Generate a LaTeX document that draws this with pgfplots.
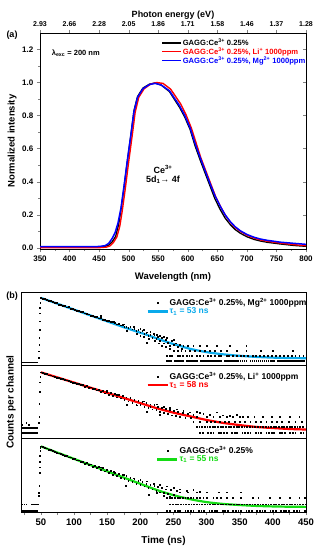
\documentclass[border=0pt]{standalone}
\usepackage{fontspec}
\setmainfont{Liberation Sans}
\usepackage{pgfplots}
\pgfplotsset{compat=1.18}
\definecolor{mgc}{RGB}{10,170,235}
\definecolor{lic}{RGB}{255,0,0}
\definecolor{unc}{RGB}{20,220,20}
\definecolor{bluec}{RGB}{0,0,255}
\pgfplotsset{
  /pgf/number format/assume math mode=true,
  every axis/.append style={font=\bfseries, line width=0.6pt},
  bpanel/.style={scale only axis, width=285pt, height=73.33pt,
    xmin=20, xmax=450, ymin=0, ymax=1, ytick=\empty,
    legend style={draw=none, fill=none, font=\fontsize{8.5}{9}\selectfont\bfseries,
      legend cell align=left, row sep=-1.5pt, inner sep=0pt, nodes={inner sep=1pt}},
  },
  dotmarks/.style={only marks, mark=square*, mark size=0.4pt, black},
  fitline/.style={line width=2.2pt, smooth},
}
\begin{document}
\begin{tikzpicture}[x=1pt,y=1pt]
\useasboundingbox (0,0) rectangle (318,550);
\node[font=\fontsize{9}{10}\selectfont\bfseries] at (12,515) {(a)};
\node[font=\fontsize{9}{10}\selectfont\bfseries] at (12,254) {(b)};

% ---------- panel (a) ----------
\begin{axis}[at={(40pt,300.7pt)}, anchor=south west, scale only axis,
  width=266pt, height=216.3pt, xmin=350, xmax=800, ymin=-0.01, ymax=1.3,
  xtick={350,400,...,800}, minor x tick num=1,
  ytick={0,0.2,...,1.2}, minor y tick num=1,
  tick pos=left, tick align=outside, major tick length=3pt, minor tick length=1.8pt,
  yticklabel style={/pgf/number format/fixed, /pgf/number format/fixed zerofill, /pgf/number format/precision=1},
  ticklabel style={font=\fontsize{8}{9}\selectfont\bfseries},
  xlabel={Wavelength (nm)}, ylabel={Normalized intensity},
  label style={font=\fontsize{9.5}{10}\selectfont\bfseries},
  xlabel style={at={(axis description cs:0.5,-0.128)}, anchor=center},
  ylabel style={at={(axis description cs:-0.105,0.5)}, anchor=center},
  legend style={at={(0.455,0.979)}, anchor=north west, draw=none, fill=none,
    font=\fontsize{7.6}{8}\selectfont\bfseries, legend cell align=left,
    row sep=-1.2pt, inner sep=0pt, nodes={inner sep=1pt}},
  legend image code/.code={\draw[#1] (0pt,0pt) -- (19pt,0pt);},
]
\addplot[black, line width=1.3pt] coordinates {
(350,0.003)(400,0.003)(450,0.004)(460,0.008)(466,0.015)(472,0.035)(478,0.068)(483,0.14)(487,0.23)(492,0.36)(498,0.53)(504,0.69)(509,0.83)(515,0.915)(524,0.966)(535,0.99)(544,0.997)(555,0.985)(569,0.945)(586,0.85)(595,0.79)(604,0.715)(612,0.62)(621,0.53)(630,0.445)(638,0.37)(646,0.295)(655,0.23)(663,0.18)(672,0.139)(680,0.11)(689,0.087)(700,0.066)(712,0.05)(723,0.04)(735,0.032)(757,0.022)(780,0.013)(800,0.008)};
\addlegendentry{GAGG:Ce\textsuperscript{3+} 0.25\%}
\addplot[lic, line width=1.4pt] coordinates {
(350,0.0)(450,0.0)(462,0.003)(468,0.01)(474,0.03)(480,0.065)(485,0.13)(489,0.22)(494,0.35)(500,0.52)(506,0.68)(511,0.82)(517,0.91)(526,0.962)(537,0.99)(547,1.0)(558,0.995)(571,0.96)(588,0.87)(597,0.805)(606,0.725)(614,0.635)(622,0.545)(631,0.46)(639,0.385)(647,0.31)(656,0.245)(664,0.193)(673,0.15)(681,0.12)(690,0.096)(701,0.074)(713,0.057)(724,0.046)(736,0.038)(758,0.027)(780,0.018)(800,0.012)};
\addlegendentry{\textcolor{lic}{GAGG:Ce\textsuperscript{3+} 0.25\%, Li\textsuperscript{+} 1000ppm}}
\addplot[bluec, line width=1.5pt] coordinates {
(350,0.006)(400,0.006)(450,0.007)(460,0.012)(466,0.025)(472,0.055)(477,0.09)(482,0.15)(487,0.24)(492,0.37)(498,0.535)(504,0.69)(509,0.825)(515,0.91)(524,0.962)(535,0.988)(545,0.995)(555,0.985)(569,0.95)(586,0.86)(595,0.8)(604,0.725)(612,0.635)(621,0.545)(630,0.46)(638,0.385)(646,0.315)(655,0.25)(663,0.2)(672,0.157)(680,0.127)(689,0.102)(700,0.08)(712,0.063)(723,0.052)(735,0.044)(757,0.033)(780,0.026)(800,0.02)};
\addlegendentry{\textcolor{bluec}{GAGG:Ce\textsuperscript{3+} 0.25\%, Mg\textsuperscript{2+} 1000ppm}}
\node[anchor=west, font=\fontsize{7.5}{8}\selectfont\bfseries] at (axis cs:364,1.18) {λ\textsubscript{exc} = 200 nm};
\node[font=\fontsize{9}{10}\selectfont\bfseries] at (axis cs:558,0.476) {Ce\textsuperscript{3+}};
\node[font=\fontsize{9}{10}\selectfont\bfseries] at (axis cs:558,0.411) {5d\textsubscript{1}→ 4f};
\end{axis}
% top energy axis
\begin{axis}[at={(40pt,300.7pt)}, anchor=south west, scale only axis,
  width=266pt, height=216.3pt, xmin=350, xmax=800, ymin=-0.01, ymax=1.3,
  axis x line*=top, axis y line=none, tick align=outside, major tick length=3pt,
  xtick={350,400,...,800},
  xticklabels={2.93,2.66,2.28,2.05,1.86,1.71,1.58,1.46,1.37,1.28},
  ticklabel style={font=\fontsize{7}{8}\selectfont\bfseries},
  xlabel={Photon energy (eV)},
  xlabel style={font=\fontsize{9}{10}\selectfont\bfseries, at={(axis description cs:0.5,1.083)}, anchor=center},
]
\end{axis}
% right ticks
\begin{axis}[at={(40pt,300.7pt)}, anchor=south west, scale only axis,
  width=266pt, height=216.3pt, xmin=350, xmax=800, ymin=-0.01, ymax=1.3,
  axis x line=none, axis y line*=right, tick align=inside, major tick length=3pt,
  ytick={0.2,0.4,...,1.2}, yticklabels={}]
\end{axis}

% ---------- panel (b1) Mg ----------
\begin{axis}[bpanel, at={(21pt,184.67pt)}, anchor=south west, xtick=\empty,
  legend style={at={(0.439,0.925)}, anchor=north west},
  legend image code/.code={\draw[mark repeat=2,mark phase=2,#1] plot coordinates {(0pt,0pt) (10pt,0pt) (20pt,0pt)};}]
\addplot[dotmarks] coordinates {
(22,0.04)(24,0.04)(26,0.04)(28,0.04)(30,0.04)(32,0.04)(34,0.04)(36,0.04)(38,0.04)(40,0.04)(42,0.04)(44,0.04)
(47,0.10)(47,0.19)(47.5,0.28)(47.5,0.37)(48,0.48)(48,0.60)(48.5,0.71)(48.5,0.78)(49,0.85)(50,0.92)
(53,0.91)(56,0.905)(59,0.895)(62,0.885)(65,0.875)(68,0.87)(71,0.855)(74,0.85)(77,0.83)(80,0.83)(83,0.81)(86,0.81)(89,0.79)(92,0.795)(95,0.775)(98,0.77)(101,0.76)(104,0.745)(107,0.745)(110,0.73)(113,0.725)(116,0.71)(119,0.705)(122,0.695)(125,0.68)(128,0.68)(131,0.665)(134,0.66)(137,0.64)(140,0.645)(143,0.625)(146,0.625)(149,0.61)(152,0.61)(155,0.59)(158,0.59)(161,0.585)(164,0.56)(167,0.57)(170,0.545)(173,0.55)(176,0.525)(179,0.53)(182,0.51)(185,0.52)(188,0.49)(191,0.50)(194,0.47)(197,0.48)(200,0.45)(203,0.47)(206,0.43)(209,0.44)(212,0.40)(215,0.42)(218,0.38)(221,0.41)(224,0.36)(227,0.39)(230,0.33)(233,0.37)(236,0.30)(239,0.35)(242,0.31)(245,0.27)(248,0.33)(251,0.28)(254,0.30)(257,0.25)(260,0.28)(263,0.22)
(140,0.67)(160,0.60)(175,0.56)(190,0.52)(200,0.50)(205,0.48)(210,0.45)(215,0.46)(220,0.43)(225,0.42)(230,0.40)(235,0.39)(240,0.37)(250,0.35)(180,0.47)(195,0.43)(205,0.39)(213,0.36)(222,0.33)(228,0.30)(233,0.27)(238,0.25)(245,0.23)(210,0.31)(200,0.40)
(265,0.27)(272,0.27)(280,0.27)(290,0.27)(300,0.27)(315,0.27)(335,0.27)(360,0.27)
(250,0.20)(256,0.20)(262,0.20)(268,0.20)(275,0.20)(282,0.20)(290,0.20)(297,0.20)(305,0.20)(312,0.20)(322,0.20)(330,0.20)(345,0.20)(360,0.20)(382,0.20)(400,0.20)(430,0.20)
(240,0.13)(244,0.13)(248,0.13)(256,0.13)(260,0.13)(264,0.13)(270,0.13)(274,0.13)(278,0.13)(285,0.13)(290,0.13)(295,0.13)(302,0.13)(306,0.13)(312,0.13)(318,0.13)(322,0.13)(330,0.13)(334,0.13)(340,0.13)(346,0.13)(352,0.13)(356,0.13)(362,0.13)(370,0.13)(374,0.13)(380,0.13)(386,0.13)(392,0.13)(398,0.13)(404,0.13)(410,0.13)(416,0.13)(422,0.13)(428,0.13)(434,0.13)(440,0.13)(446,0.13)
(240,0.06)(243,0.06)(246,0.06)(252,0.06)(255,0.06)(258,0.06)(261,0.06)(264,0.06)(270,0.06)(273,0.06)(276,0.06)(279,0.06)(282,0.06)(285,0.06)(291,0.06)(294,0.06)(297,0.06)(300,0.06)(303,0.06)(306,0.06)(309,0.06)(312,0.06)(315,0.06)(318,0.06)(321,0.06)(327,0.06)(330,0.06)(333,0.06)(336,0.06)(339,0.06)(342,0.06)(345,0.06)(348,0.06)(351,0.06)(354,0.06)(357,0.06)(360,0.06)(366,0.06)(369,0.06)(372,0.06)(375,0.06)(378,0.06)(381,0.06)(384,0.06)(387,0.06)(390,0.06)(393,0.06)(396,0.06)(399,0.06)(402,0.06)(408,0.06)(411,0.06)(414,0.06)(417,0.06)(420,0.06)(423,0.06)(426,0.06)(429,0.06)(432,0.06)(435,0.06)(438,0.06)(441,0.06)(444,0.06)(447,0.06)
};
\addlegendentry{GAGG:Ce\textsuperscript{3+} 0.25\%, Mg\textsuperscript{2+} 1000ppm}
\addplot[mgc, fitline] coordinates {
(50,0.92)(75,0.84)(100,0.76)(125,0.68)(150,0.60)(175,0.52)(200,0.445)(215,0.40)(230,0.35)(240,0.32)(250,0.29)(260,0.265)(275,0.225)(300,0.18)(325,0.15)(350,0.13)(375,0.115)(400,0.105)(425,0.10)(450,0.097)};
\addlegendentry{\textcolor{mgc}{τ\textsubscript{1} = 53 ns}}
\end{axis}

% ---------- panel (b2) Li ----------
\begin{axis}[bpanel, at={(21pt,111.33pt)}, anchor=south west, xtick=\empty,
  ylabel={Counts per channel},
  ylabel style={font=\fontsize{10}{11}\selectfont\bfseries, at={(axis description cs:-0.035,0.5)}, anchor=center},
  legend style={at={(0.439,0.923)}, anchor=north west},
  legend image code/.code={\draw[mark repeat=2,mark phase=2,#1] plot coordinates {(0pt,0pt) (10pt,0pt) (20pt,0pt)};}]
\addplot[dotmarks] coordinates {
(22,0.15)(24,0.15)(26,0.15)(28,0.15)(30,0.15)(32,0.15)(34,0.15)(36,0.15)(38,0.15)(40,0.15)(42,0.15)(44,0.15)
(22,0.085)(24,0.085)(26,0.085)(28,0.085)(30,0.085)(32,0.085)(34,0.085)(36,0.085)(38,0.085)(40,0.085)(42,0.085)(44,0.085)
(22,0.19)(28,0.22)(32,0.19)
(47,0.22)(47.5,0.30)(47.5,0.48)(48,0.64)(48.5,0.77)(49,0.84)(50,0.905)
(53,0.90)(56,0.885)(59,0.88)(62,0.865)(65,0.865)(68,0.85)(71,0.845)(74,0.835)(77,0.83)(80,0.815)(83,0.815)(86,0.80)(89,0.795)(92,0.785)(95,0.78)(98,0.765)(101,0.765)(104,0.745)(107,0.75)(110,0.73)(113,0.735)(116,0.71)(119,0.72)(122,0.695)(125,0.70)(128,0.675)(131,0.685)(134,0.66)(137,0.67)(140,0.64)(143,0.655)(146,0.62)(149,0.64)(152,0.60)(155,0.625)(158,0.585)(161,0.61)(164,0.565)(167,0.595)(170,0.55)(173,0.58)(176,0.53)(179,0.565)(182,0.51)(185,0.55)(188,0.49)(191,0.535)(194,0.47)(197,0.52)(200,0.46)(203,0.50)(206,0.44)(209,0.49)(212,0.42)(215,0.47)(218,0.40)(221,0.46)(224,0.39)(227,0.44)(230,0.37)(233,0.42)(236,0.35)(239,0.41)(242,0.34)(245,0.39)(248,0.32)(251,0.38)(254,0.31)(257,0.37)(260,0.30)(264,0.35)(268,0.29)(272,0.34)(276,0.28)(280,0.33)(285,0.30)(290,0.35)
(150,0.655)(165,0.60)(185,0.56)(195,0.455)(205,0.51)(215,0.43)(225,0.47)(235,0.44)(245,0.42)(255,0.40)(265,0.38)(275,0.36)(285,0.37)(295,0.34)(305,0.33)(315,0.36)(325,0.32)(335,0.31)(345,0.33)(355,0.30)(210,0.37)(230,0.33)(180,0.46)
(300,0.30)(310,0.30)(320,0.30)(330,0.30)(340,0.30)(350,0.30)(362,0.30)(372,0.30)(385,0.30)(398,0.30)(410,0.30)(425,0.30)(440,0.30)
(280,0.23)(290,0.23)(300,0.23)(306,0.23)(312,0.23)(320,0.23)(328,0.23)(334,0.23)(342,0.23)(350,0.23)(358,0.23)(366,0.23)(374,0.23)(382,0.23)(390,0.23)(398,0.23)(406,0.23)(414,0.23)(424,0.23)(434,0.23)(444,0.23)
(285,0.16)(289,0.16)(293,0.16)(297,0.16)(301,0.16)(305,0.16)(309,0.16)(313,0.16)(317,0.16)(321,0.16)(325,0.16)(329,0.16)(333,0.16)(337,0.16)(341,0.16)(345,0.16)(349,0.16)(353,0.16)(357,0.16)(361,0.16)(365,0.16)(369,0.16)(373,0.16)(377,0.16)(381,0.16)(385,0.16)(389,0.16)(393,0.16)(397,0.16)(401,0.16)(405,0.16)(409,0.16)(413,0.16)(417,0.16)(421,0.16)(425,0.16)(429,0.16)(433,0.16)(437,0.16)(441,0.16)(445,0.16)
(290,0.085)(294,0.085)(302,0.085)(306,0.085)(310,0.085)(318,0.085)(322,0.085)(326,0.085)(330,0.085)(338,0.085)(342,0.085)(346,0.085)(354,0.085)(358,0.085)(362,0.085)(366,0.085)(374,0.085)(378,0.085)(382,0.085)(390,0.085)(394,0.085)(398,0.085)(402,0.085)(410,0.085)(414,0.085)(418,0.085)(426,0.085)(430,0.085)(434,0.085)(442,0.085)(446,0.085)
};
\addlegendentry{GAGG:Ce\textsuperscript{3+} 0.25\%, Li\textsuperscript{+} 1000ppm}
\addplot[lic, fitline] coordinates {
(50,0.905)(75,0.835)(100,0.765)(125,0.695)(150,0.625)(175,0.555)(200,0.485)(225,0.415)(250,0.355)(275,0.305)(300,0.255)(325,0.215)(350,0.185)(375,0.16)(400,0.145)(425,0.132)(450,0.125)};
\addlegendentry{\textcolor{lic}{τ\textsubscript{1} = 58 ns}}
\end{axis}

% ---------- panel (b3) undoped ----------
\begin{axis}[bpanel, at={(21pt,38pt)}, anchor=south west,
  xtick={50,100,...,450}, minor xtick={25,75,...,425},
  xtick pos=bottom, tick align=outside, major tick length=3pt, minor tick length=3pt,
  ticklabel style={font=\fontsize{9.5}{10}\selectfont\bfseries},
  xlabel={Time (ns)},
  xlabel style={font=\fontsize{10}{11}\selectfont\bfseries, at={(axis description cs:0.5,-0.395)}, anchor=center},
  legend style={at={(0.474,0.907)}, anchor=north west},
  legend image code/.code={\draw[mark repeat=2,mark phase=2,#1] plot coordinates {(0pt,0pt) (10pt,0pt) (20pt,0pt)};}]
\addplot[dotmarks] coordinates {
(22,0.105)(25,0.105)(28,0.105)(36,0.105)(39,0.105)(42,0.105)(45,0.105)
(22,0.015)(24,0.015)(26,0.015)(28,0.015)(30,0.015)(32,0.015)(34,0.015)(36,0.015)(38,0.015)(40,0.015)(42,0.015)(44,0.015)
(47,0.22)(47,0.26)(47.5,0.36)(48,0.54)(48,0.61)(48.5,0.68)(48.5,0.77)(49,0.84)(49,0.88)(50,0.895)
(53,0.885)(56,0.875)(59,0.87)(62,0.85)(65,0.845)(68,0.83)(71,0.825)(74,0.81)(77,0.80)(80,0.79)(83,0.785)(86,0.765)(89,0.765)(92,0.745)(95,0.745)(98,0.725)(101,0.725)(104,0.705)(107,0.705)(110,0.685)(113,0.685)(116,0.66)(119,0.67)(122,0.64)(125,0.65)(128,0.62)(131,0.63)(134,0.60)(137,0.615)(140,0.58)(143,0.60)(146,0.555)(149,0.58)(152,0.535)(155,0.56)(158,0.51)(161,0.54)(164,0.49)(167,0.525)(170,0.47)(173,0.505)(176,0.45)(179,0.49)(182,0.43)(185,0.47)(188,0.41)(191,0.45)(194,0.39)(197,0.43)(200,0.37)(203,0.41)(206,0.35)(209,0.39)(212,0.33)(215,0.37)(218,0.31)(221,0.36)(224,0.29)(227,0.34)(230,0.27)(233,0.33)(236,0.26)(239,0.31)(242,0.25)(246,0.30)(250,0.24)(255,0.29)(260,0.27)
(140,0.61)(160,0.55)(175,0.51)(190,0.46)(200,0.44)(210,0.42)(220,0.39)(230,0.37)(240,0.35)(250,0.33)(260,0.31)(270,0.29)(280,0.30)(290,0.28)(300,0.27)(178,0.36)(213,0.24)(225,0.26)(235,0.22)(245,0.21)
(272,0.27)(285,0.27)(318,0.27)(330,0.27)(352,0.27)
(240,0.19)(244,0.19)(248,0.19)(252,0.19)(256,0.19)(260,0.19)(264,0.19)(268,0.19)(272,0.19)(276,0.19)(280,0.19)(285,0.19)(290,0.19)(295,0.19)(300,0.19)(310,0.19)(316,0.19)(322,0.19)(330,0.19)(340,0.19)(352,0.19)(370,0.19)(378,0.19)(395,0.19)(410,0.19)(425,0.19)(440,0.19)(448,0.19)
(245,0.105)(249,0.105)(253,0.105)(257,0.105)(261,0.105)(265,0.105)(269,0.105)(273,0.105)(277,0.105)(281,0.105)(285,0.105)(289,0.105)(293,0.105)(297,0.105)(301,0.105)(305,0.105)(309,0.105)(313,0.105)(317,0.105)(321,0.105)(325,0.105)(329,0.105)(333,0.105)(337,0.105)(341,0.105)(345,0.105)(349,0.105)(353,0.105)(357,0.105)(361,0.105)(365,0.105)(369,0.105)(373,0.105)(377,0.105)(381,0.105)(385,0.105)(389,0.105)(393,0.105)(397,0.105)(401,0.105)(405,0.105)(409,0.105)(413,0.105)(417,0.105)(421,0.105)(425,0.105)(429,0.105)(433,0.105)(437,0.105)(441,0.105)(445,0.105)(449,0.105)
(240,0.012)(244,0.012)(252,0.012)(256,0.012)(260,0.012)(268,0.012)(272,0.012)(276,0.012)(280,0.012)(288,0.012)(292,0.012)(296,0.012)(304,0.012)(308,0.012)(312,0.012)(316,0.012)(324,0.012)(328,0.012)(332,0.012)(340,0.012)(344,0.012)(348,0.012)(352,0.012)(360,0.012)(364,0.012)(368,0.012)(376,0.012)(380,0.012)(384,0.012)(388,0.012)(396,0.012)(400,0.012)(404,0.012)(412,0.012)(416,0.012)(420,0.012)(424,0.012)(432,0.012)(436,0.012)(440,0.012)(448,0.012)
};
\addlegendentry{GAGG:Ce\textsuperscript{3+} 0.25\%}
\addplot[unc, fitline] coordinates {
(50,0.895)(75,0.81)(100,0.725)(125,0.64)(150,0.555)(175,0.47)(200,0.385)(225,0.30)(250,0.23)(275,0.175)(300,0.135)(325,0.11)(350,0.095)(375,0.083)(400,0.076)(425,0.072)(450,0.07)};
\addlegendentry{\textcolor{unc}{τ\textsubscript{1} = 55 ns}}
\end{axis}
\end{tikzpicture}
\end{document}
